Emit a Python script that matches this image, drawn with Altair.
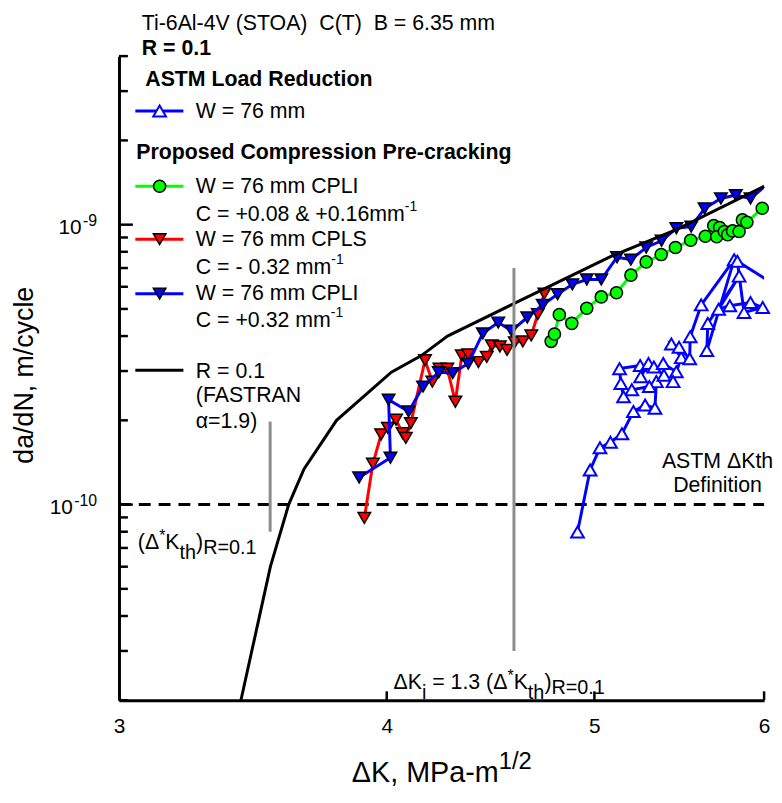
import altair as alt
import pandas as pd

FONT = "Liberation Sans"

# ---------------- data (dK in MPa-m^1/2, da/dN in m/cycle) ----------------
fastran_dk = [3.42, 3.53, 3.60, 3.66, 3.79, 4.02, 4.15, 4.27, 4.58, 5.09, 5.46, 6.00]
fastran_rate = [2.0e-11, 6.0e-11, 1.0e-10, 1.34e-10, 2.0e-10, 2.97e-10, 3.4e-10,
                4.0e-10, 5.2e-10, 7.7e-10, 9.6e-10, 1.37e-9]

cpli32_dk = [3.883, 4.016, 4.008, 4.095, 4.159, 4.230, 4.294, 4.366, 4.435, 4.509,
             4.574, 4.652, 4.730, 4.806, 4.883, 4.959, 5.037, 5.123, 5.200, 5.286,
             5.374, 5.460, 5.548, 5.628, 5.728, 5.820, 5.913]
cpli32_rate = [1.25e-10, 1.47e-10, 2.37e-10, 2.15e-10, 2.64e-10, 2.97e-10, 2.95e-10,
               3.19e-10, 4.09e-10, 4.47e-10, 4.18e-10, 4.66e-10, 5.17e-10, 5.64e-10,
               6.12e-10, 6.37e-10, 6.37e-10, 7.65e-10, 7.50e-10, 8.29e-10, 8.76e-10,
               9.71e-10, 9.84e-10, 1.142e-9, 1.24e-9, 1.275e-9, 1.24e-9]
cpli32_tail = [6.10, 1.52e-9]

cpls_dk = [3.905, 3.941, 3.976, 4.005, 4.040, 4.069, 4.083, 4.105, 4.168, 4.201,
           4.233, 4.269, 4.306, 4.336, 4.366, 4.414, 4.454, 4.478, 4.517, 4.552,
           4.590, 4.630, 4.672, 4.705, 4.738]
cpls_rate = [8.96e-11, 1.40e-10, 1.78e-10, 1.88e-10, 2.01e-10, 1.80e-10, 1.73e-10,
             1.955e-10, 3.28e-10, 2.75e-10, 3.06e-10, 3.06e-10, 2.33e-10, 3.41e-10,
             3.44e-10, 3.23e-10, 3.37e-10, 3.70e-10, 3.67e-10, 3.57e-10, 3.80e-10,
             3.83e-10, 4.02e-10, 4.79e-10, 5.67e-10]

cpli08_dk = [4.773, 4.790, 4.815, 4.880, 4.959, 5.037, 5.120, 5.200, 5.286, 5.372,
             5.455, 5.545, 5.633, 5.684, 5.720, 5.702, 5.749, 5.770, 5.800, 5.841,
             5.862, 5.890, 5.988]
cpli08_rate = [3.83e-10, 4.07e-10, 4.77e-10, 4.44e-10, 5.03e-10, 5.52e-10, 5.71e-10,
               6.60e-10, 7.36e-10, 7.82e-10, 8.29e-10, 8.80e-10, 9.09e-10, 9.92e-10,
               9.76e-10, 9.05e-10, 9.45e-10, 9.20e-10, 9.50e-10, 9.45e-10, 1.04e-9,
               1.02e-9, 1.145e-9]

astm_dk = [4.910, 4.977, 5.030, 5.087, 5.150, 5.214, 5.280, 5.336, 5.344, 5.304,
           5.205, 5.159, 5.144, 5.137, 5.252, 5.255, 5.299, 5.330, 5.388, 5.384,
           5.460, 5.441, 5.489, 5.431, 5.476, 5.539, 5.542, 5.608, 5.810, 5.642,
           5.648, 5.841, 5.714, 5.783, 5.913, 5.991, 5.872, 5.830]
astm_rate = [7.98e-11, 1.33e-10, 1.595e-10, 1.67e-10, 1.79e-10, 2.15e-10, 2.27e-10,
             2.21e-10, 2.75e-10, 2.64e-10, 2.57e-10, 2.43e-10, 2.71e-10, 3.06e-10,
             3.14e-10, 2.86e-10, 3.19e-10, 3.10e-10, 2.90e-10, 3.19e-10, 2.98e-10,
             2.75e-10, 3.35e-10, 3.75e-10, 3.65e-10, 3.32e-10, 3.98e-10, 5.17e-10,
             7.50e-10, 3.55e-10, 4.44e-10, 6.55e-10, 4.99e-10, 5.13e-10, 5.27e-10,
             5.06e-10, 4.86e-10, 7.40e-10]
astm_tail = [6.10, 5.95e-10]

astm_def_rate = 1.0e-10          # ASTM threshold definition line
kth_dk, kth_span = 3.529, [8.0e-11, 1.98e-10]
ki_dk, ki_span = 4.586, [3.0e-11, 7.0e-10]

x_tick_values = [3, 4, 5, 6]
x_inner_ticks = [4, 5, 6]
y_label_values = [1e-10, 1e-9]
y_label_sups = ["-10", "-9"]
y_minor_values = [k * 10.0 ** e for e in (-11, -10, -9) for k in range(2, 10)
                  if 2e-11 <= k * 10.0 ** e <= 4.0001e-9]

# ---------------- layout ----------------
X0, Y0 = 120, 53          # plot origin on the page
W, H = 651, 650
FS = 21.5                 # body text size

xs = alt.Scale(type="log", domain=[3, 6], nice=False)
ys = alt.Scale(type="log", domain=[2e-11, 4e-9], nice=False)

x_axis = alt.Axis(values=x_tick_values, format="d", title=None, grid=False, ticks=False,
                  domainColor="black", domainWidth=3, labelFont=FONT, labelFontSize=21,
                  labelColor="black", labelPadding=16, labelFlush=False,
                  labelOverlap=False)
y_axis = alt.Axis(title=None, grid=False, ticks=False, labels=False,
                  domainColor="black", domainWidth=3)


def X(f="dk"):
    return alt.X(f"{f}:Q", scale=xs, axis=x_axis)


def Y(f="rate"):
    return alt.Y(f"{f}:Q", scale=ys, axis=y_axis)


def sdf(dk, rate):
    return pd.DataFrame({"dk": dk, "rate": rate, "i": list(range(len(dk)))})


def line(df, color, width=3.0, dash=None, clip=False):
    kw = dict(color=color, strokeWidth=width, clip=clip)
    if dash:
        kw["strokeDash"] = dash
    return alt.Chart(df).mark_line(**kw).encode(x=X(), y=Y(), order="i:Q")


def pts(df, shape, fill, stroke="black", sw=1.5, size=160):
    return alt.Chart(df).mark_point(shape=shape, filled=True, fill=fill, stroke=stroke,
                                    strokeWidth=sw, size=size, opacity=1).encode(x=X(), y=Y())


layers = []
layers.append(line(sdf([3, 6], [astm_def_rate] * 2), "black", 3, dash=[12, 8]))
# ASTM load reduction (open triangles)
layers.append(line(sdf(astm_dk + [astm_tail[0]], astm_rate + [astm_tail[1]]), "#0000ff", 3, clip=True))
layers.append(pts(sdf(astm_dk, astm_rate), "triangle-up", "white", "#0000ff", 2, 165))
# CPLI C=+0.08 & +0.16
layers.append(line(sdf(cpli08_dk, cpli08_rate), "#00ff00", 3))
layers.append(pts(sdf(cpli08_dk, cpli08_rate), "circle", "#00ff00", size=150))
# CPLS C=-0.32
layers.append(line(sdf(cpls_dk, cpls_rate), "#ff0000", 3))
layers.append(pts(sdf(cpls_dk, cpls_rate), "triangle-down", "#ff0000"))
# CPLI C=+0.32
layers.append(line(sdf(cpli32_dk + [cpli32_tail[0]], cpli32_rate + [cpli32_tail[1]]), "#0000ff", 3, clip=True))
layers.append(pts(sdf(cpli32_dk, cpli32_rate), "triangle-down", "#0000ff"))
# FASTRAN
layers.append(line(sdf(fastran_dk, fastran_rate), "black", 3))
# grey markers of thresholds
gray = pd.DataFrame({"dk": [kth_dk, kth_dk, ki_dk, ki_dk], "rate": kth_span + ki_span,
                     "g": ["a", "a", "b", "b"], "i": [0, 1, 0, 1]})
layers.append(alt.Chart(gray).mark_line(color="#8c8c8c", strokeWidth=3).encode(
    x=X(), y=Y(), detail="g:N", order="i:Q"))

# inward ticks
layers.append(alt.Chart(pd.DataFrame({"v": y_minor_values})).mark_rule(
    color="black", strokeWidth=2.5).encode(y=Y("v"), x=alt.value(0), x2=alt.value(9)))
layers.append(alt.Chart(pd.DataFrame({"v": y_label_values})).mark_rule(
    color="black", strokeWidth=2.5).encode(y=Y("v"), x=alt.value(0), x2=alt.value(14)))
layers.append(alt.Chart(pd.DataFrame({"k": x_inner_ticks})).mark_rule(
    color="black", strokeWidth=2.5).encode(x=X("k"), y=alt.value(H), y2=alt.value(H - 9)))

# y tick labels  10^-9, 10^-10
AW = {" ": 278, "\u00a0": 278, "(": 333, ")": 333, "*": 389, "+": 584, ",": 278, "-": 333,
      ".": 278, "/": 278, "=": 584, "&": 667, "A": 667, "B": 667, "C": 722, "K": 667,
      "L": 556, "M": 833, "N": 722, "P": 667, "R": 722, "S": 667, "T": 611, "W": 944,
      "a": 556, "c": 500, "d": 556, "e": 556, "h": 556, "i": 222, "l": 222, "m": 833,
      "n": 556, "t": 278, "y": 500, "\u0394": 668, "\u03b1": 578}


def tw(s, size):
    return sum(AW.get(c, 556) for c in s) * size / 1000.0


ylab = []
for v, sup in zip(y_label_values, y_label_sups):
    right = 98 - tw(sup, 16) - 1.5
    ylab.append({"v": v, "px": right - X0, "text": "10", "kind": "main"})
    ylab.append({"v": v, "px": right + 1.5 - X0, "text": sup, "kind": "sup"})
ylab = pd.DataFrame(ylab)
layers.append(alt.Chart(ylab[ylab.kind == "main"]).mark_text(
    align="right", baseline="alphabetic", dy=9, font=FONT, fontSize=21, color="black").encode(
    x=alt.X("px:Q", scale=None, axis=None), y=Y("v"), text="text:N"))
layers.append(alt.Chart(ylab[ylab.kind == "sup"]).mark_text(
    align="left", baseline="alphabetic", dy=1, font=FONT, fontSize=16, color="black").encode(
    x=alt.X("px:Q", scale=None, axis=None), y=Y("v"), text="text:N"))

# ---------------- annotation text (page pixel positions) ----------------
STY = {"n": (FS, 0, False), "b": (FS, 0, True), "sup": (14, -10, False),
       "ast": (16, -8, False), "sub": (20, 10, False), "sub2": (20, 5, False),
       "title": (29, 0, False), "tsup": (24, -13, False), "gap": (FS, 0, False)}

notes = [
    (143, 27, [("Ti-6Al-4V (STOA)\u00a0 C(T)\u00a0 B = 6.35 mm", "n")]),
    (143, 52, [("R = 0.1", "b")]),
    (146.5, 83.5, [("ASTM Load Reduction", "b")]),
    (197.5, 115.5, [("W = 76 mm", "n")]),
    (137.5, 156.5, [("Proposed Compression Pre-cracking", "b")]),
    (197.5, 191.5, [("W = 76 mm CPLI", "n")]),
    (197.5, 219, [("C = +0.08 & +0.16mm", "n"), ("-1", "sup")]),
    (197.5, 245, [("W = 76 mm CPLS", "n")]),
    (197.5, 272.5, [("C = - 0.32 mm", "n"), ("-1", "sup")]),
    (197.5, 299, [("W = 76 mm CPLI", "n")]),
    (197.5, 326.5, [("C = +0.32 mm", "n"), ("-1", "sup")]),
    (197.5, 377.5, [("R = 0.1", "n")]),
    (197.5, 402.5, [("(FASTRAN", "n")]),
    (197.5, 428.5, [("\u03b1=1.9)", "n")]),
    (139, 550, [("(\u0394", "n"), ("*", "ast"), ("K", "n"), ("th", "sub"), (")", "n"),
                ("R=0.1", "sub2")]),
    (397, 692, [("\u0394K", "n"), ("i", "sub"), (" ", "gap"), ("= 1.3 (\u0394", "n"),
                ("*", "ast"), ("K", "n"), ("th", "sub"), (")", "n"), ("R=0.1", "sub2")]),
    (355, 785, [("\u0394K, MPa-m", "title"), ("1/2", "tsup")]),
]
centered = [(724, 468.5, "ASTM \u0394Kth"), (724, 492.5, "Definition")]

rows = []
for x, y, runs in notes:
    cx = x
    for txt, st in runs:
        size, dy, bold = STY[st]
        if st != "gap":
            rows.append({"px": cx - X0, "py": y + dy - Y0,
                         "text": txt.replace(" ", "\u00a0"), "size": size, "bold": bold})
        cx += tw(txt, size)
rows = pd.DataFrame(rows)


def text_layer(df, align="left", weight="normal"):
    return alt.Chart(df).mark_text(align=align, baseline="alphabetic", font=FONT,
                                   fontWeight=weight, color="black").encode(
        x=alt.X("px:Q", scale=None, axis=None), y=alt.Y("py:Q", scale=None, axis=None),
        text="text:N", size=alt.Size("size:Q", scale=None, legend=None))


layers.append(text_layer(rows[~rows.bold]))
layers.append(text_layer(rows[rows.bold], weight="bold"))
cdf = pd.DataFrame({"px": [c[0] - X0 for c in centered], "py": [c[1] - Y0 for c in centered],
                    "text": [c[2].replace(" ", "\u00a0") for c in centered], "size": [FS] * len(centered)})
layers.append(text_layer(cdf, align="center"))
ytitle = pd.DataFrame({"px": [25 - X0], "py": [375 - Y0], "text": ["da/dN, m/cycle"]})
layers.append(alt.Chart(ytitle).mark_text(angle=270, align="center", baseline="middle",
                                          font=FONT, fontSize=27, color="black").encode(
    x=alt.X("px:Q", scale=None, axis=None), y=alt.Y("py:Q", scale=None, axis=None), text="text:N"))

# ---------------- legend ----------------
leg = pd.DataFrame({
    "x1": [136.5 - X0] * 5, "x2": [185 - X0] * 5, "xm": [161 - X0] * 5,
    "y": [108.3 - Y0, 184.3 - Y0, 237.7 - Y0, 292.7 - Y0, 370 - Y0],
    "col": ["#0000ff", "#00ff00", "#ff0000", "#0000ff", "black"],
    "shape": ["triangle-up", "circle", "triangle-down", "triangle-down", "none"],
    "fill": ["white", "#00ff00", "#ff0000", "#0000ff", "none"],
    "stroke": ["#0000ff", "black", "black", "black", "none"],
    "sw": [2, 1.5, 1.5, 1.5, 0], "size": [165, 150, 160, 160, 0],
})
layers.append(alt.Chart(leg).mark_rule(strokeWidth=3).encode(
    x=alt.X("x1:Q", scale=None, axis=None), x2="x2:Q",
    y=alt.Y("y:Q", scale=None, axis=None), color=alt.Color("col:N", scale=None, legend=None)))
legm = leg[leg["size"] > 0]
layers.append(alt.Chart(legm).mark_point(filled=True, opacity=1).encode(
    x=alt.X("xm:Q", scale=None, axis=None), y=alt.Y("y:Q", scale=None, axis=None),
    shape=alt.Shape("shape:N", scale=None, legend=None),
    fill=alt.Fill("fill:N", scale=None, legend=None),
    stroke=alt.Stroke("stroke:N", scale=None, legend=None),
    strokeWidth=alt.StrokeWidth("sw:Q", scale=None, legend=None),
    size=alt.Size("size:Q", scale=None, legend=None)))

chart = alt.layer(*layers).properties(
    width=W, height=H, autosize="none",
    padding={"left": X0 - 8, "top": Y0 - 8, "right": 10, "bottom": 88},
    background="white",
).configure_view(stroke=None)

chart.save("out.html", embed_options={"renderer": "svg", "actions": False})
